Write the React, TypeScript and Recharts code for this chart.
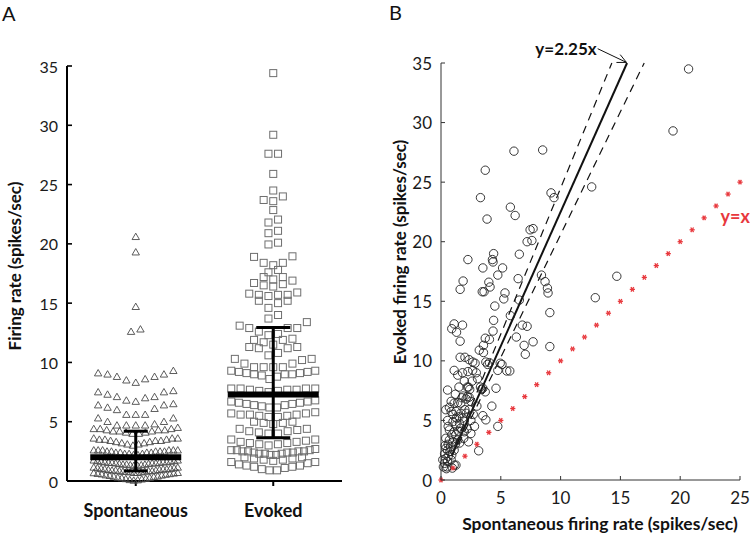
import React from "react";
import { ScatterChart, Scatter, XAxis, YAxis, ReferenceLine, ReferenceDot } from "recharts";

const FONT = "Lato, 'Open Sans', sans-serif";

// ---- Panel A: firing rate per neuron, in the rows the dot plot stacks them ----
const spontaneousRows: number[][] = [
  [20.6], [19.3], [14.7], [12.6, 12.8],
  [8.3, 8.5, 8.6, 8.8, 8.8, 9.0, 9.0, 9.1, 9.3],
  [6.7, 6.8, 7.0, 7.1, 7.1, 7.3, 7.5, 7.5, 7.6],
  [5.6, 5.6, 5.6, 6.0, 6.1, 6.2, 6.4, 6.4, 6.5],
  [4.7, 4.7, 4.7, 4.7, 4.8, 5.0, 5.0, 5.3, 5.3],
  [4.0, 4.0, 4.1, 4.1, 4.2, 4.2, 4.2, 4.3, 4.3, 4.3, 4.4, 4.4, 4.4, 4.5],
  [3.0, 3.1, 3.1, 3.2, 3.2, 3.3, 3.3, 3.4, 3.4, 3.4, 3.5, 3.5, 3.5, 3.6, 3.6, 3.6],
  [2.2, 2.2, 2.3, 2.3, 2.3, 2.4, 2.4, 2.4, 2.4, 2.5, 2.5, 2.5, 2.5, 2.5, 2.6, 2.6, 2.6, 2.6, 2.6, 2.6],
  [1.3, 1.3, 1.35, 1.35, 1.4, 1.4, 1.4, 1.45, 1.45, 1.5, 1.5, 1.5, 1.55, 1.55, 1.55, 1.6, 1.6, 1.6, 1.65, 1.65, 1.7, 1.7, 1.75, 1.75],
  [0.7, 0.7, 0.75, 0.75, 0.8, 0.8, 0.8, 0.85, 0.85, 0.85, 0.9, 0.9, 0.9, 0.95, 0.95, 1.0, 1.0, 1.0, 1.05, 1.05, 1.1, 1.1, 1.15, 1.15],
  [0.05, 0.08, 0.1, 0.15, 0.18, 0.2, 0.25, 0.28, 0.3, 0.35, 0.38, 0.4, 0.45, 0.48, 0.5, 0.55, 0.58, 0.6, 0.62, 0.65, 0.68, 0.7],
];

const evokedRows: number[][] = [
  [34.4], [29.2], [27.6, 27.6], [25.9], [24.5], [23.6, 23.7, 24.0], [22.85], [21.8, 22.05], [20.9, 21.1], [19.95, 20.1],
  [18.2, 18.4, 18.4, 18.9, 18.95],
  [17.6, 17.8],
  [17.0, 17.2, 17.2],
  [16.4, 16.5, 16.6, 16.7, 16.9],
  [15.6, 15.7, 15.7, 15.7, 15.8, 15.9],
  [14.6, 15.0, 15.2, 15.2],
  [13.7, 14.0],
  [12.3, 12.4, 12.6, 12.9, 12.9, 12.9, 13.1, 13.4],
  [11.5, 11.7, 11.9, 11.9, 12.0],
  [10.6, 10.8, 11.2, 11.2, 11.3, 11.3],
  [9.6, 9.6, 9.6, 9.6, 9.9, 9.9, 10.2, 10.3, 10.3],
  [8.6, 8.8, 8.9, 9.0, 9.0, 9.0, 9.1, 9.1, 9.2, 9.2, 9.3, 9.3],
  [7.5, 7.6, 7.6, 7.7, 7.7, 7.7, 7.8, 7.8, 7.8, 7.8],
  [6.2, 6.2, 6.3, 6.4, 6.4, 6.5, 6.5, 6.6, 6.6, 6.7, 6.7, 6.8],
  [5.4, 5.4, 5.5, 5.5, 5.6, 5.6, 5.6, 5.7, 5.7, 5.8],
  [4.8, 4.9, 4.9, 5.0, 5.0],
  [4.0, 4.0, 4.1, 4.2, 4.2, 4.3, 4.4, 4.4],
  [3.0, 3.1, 3.1, 3.2, 3.2, 3.3, 3.3, 3.4, 3.5, 3.5],
  [2.2, 2.2, 2.3, 2.3, 2.3, 2.4, 2.4, 2.4, 2.5, 2.5, 2.5, 2.5, 2.6, 2.6, 2.6, 2.7],
  [1.7, 1.8, 1.8, 1.9, 1.9, 2.0, 2.0],
  [0.9, 0.9, 1.0, 1.1, 1.2, 1.2, 1.3, 1.3, 1.4, 1.5, 1.6, 1.6],
];

const groupNames = ["Spontaneous", "Evoked"];
const groupCenters = [0.5, 1.5];
const groupMid = [2.0, 7.3];
const groupLow = [0.85, 3.65];
const groupHigh = [4.2, 12.95];
const rateTicks = [0, 5, 10, 15, 20, 25, 30, 35];

// ---- Panel B: (spontaneous, evoked) per neuron ----
const ratePairs: [number, number][] = [
  [20.7, 34.5], [19.4, 29.3], [12.6, 24.6], [14.7, 17.1], [12.9, 15.3],
  [6.1, 27.6], [8.5, 27.7], [3.7, 26.0], [3.3, 23.7], [3.85, 21.9], [5.8, 22.9], [6.2, 22.2], [9.2, 24.1], [9.45, 23.7],
  [7.45, 21.0], [7.7, 21.1], [7.2, 20.0], [7.6, 20.1],
  [4.4, 19.0], [4.3, 18.5], [4.35, 18.3], [2.25, 18.5], [6.55, 18.95], [3.5, 17.8], [5.15, 17.8], [4.75, 17.2],
  [1.85, 16.7], [1.6, 16.0], [4.0, 16.6], [4.1, 16.2], [3.45, 15.8], [3.6, 15.8], [5.35, 15.7], [5.25, 15.2],
  [4.5, 14.6], [6.45, 16.9], [6.55, 15.1], [8.4, 17.2], [8.7, 16.65], [8.9, 16.1], [8.95, 15.7], [9.1, 14.05],
  [5.8, 13.8], [4.4, 13.4],
  [1.1, 13.1], [0.9, 12.7], [1.3, 12.4], [1.8, 13.0], [1.6, 11.65], [4.35, 12.5], [6.8, 13.0], [7.2, 12.9],
  [6.3, 12.0], [7.7, 11.6], [6.95, 11.3], [9.1, 11.2], [7.05, 10.55], [3.7, 11.9], [4.05, 11.8], [3.55, 11.3],
  [3.2, 10.9], [3.55, 10.7],
  [1.6, 10.3], [2.0, 10.3], [2.35, 10.1], [2.65, 9.9], [2.85, 9.8], [3.75, 9.9], [4.05, 9.85], [4.95, 9.8],
  [5.1, 9.7], [5.5, 9.15], [5.75, 9.15], [1.1, 9.2], [1.4, 8.8], [1.8, 9.0], [2.25, 9.1], [2.65, 9.2], [2.95, 9.0],
  [3.05, 8.5], [3.9, 9.7], [4.75, 9.2], [4.6, 7.7],
  [0.55, 7.55], [1.5, 7.8], [2.3, 7.8], [2.4, 7.6], [2.2, 7.8], [1.85, 7.05], [1.75, 6.9], [2.2, 7.0],
  [0.85, 6.6], [1.1, 6.45], [1.4, 6.5], [1.65, 6.45], [2.1, 6.8], [2.35, 6.95], [2.5, 6.6],
  [0.4, 5.9], [0.85, 5.75], [1.25, 5.75], [1.65, 5.6], [2.1, 5.6], [2.35, 5.9], [4.25, 6.2], [3.5, 5.4], [3.75, 5.05], [4.75, 4.5],
  [0.55, 5.0], [1.0, 4.9], [1.25, 4.6], [1.55, 4.75], [1.95, 4.95], [2.5, 5.0],
  [0.7, 4.2], [1.1, 4.05], [1.25, 3.8], [1.65, 4.35], [1.95, 4.05], [2.5, 3.9],
  [0.4, 3.5], [0.7, 3.35], [1.0, 3.2], [1.4, 3.35], [1.55, 3.1],
  [0.4, 2.65], [0.55, 2.5], [0.75, 2.4], [0.9, 2.1], [1.1, 2.5], [3.15, 2.45],
  [0.15, 1.7], [0.3, 1.4], [0.4, 1.8], [0.55, 1.55], [0.2, 1.1], [0.5, 1.1], [0.85, 1.7], [1.1, 1.25], [1.25, 1.25],
  [0.6, 2.0], [0.8, 2.8], [1.2, 3.0], [0.9, 3.8], [1.45, 4.1], [1.8, 5.2], [2.0, 5.9], [1.5, 5.3], [0.6, 4.5],
  [1.3, 5.2], [0.3, 2.2], [0.6, 3.0], [1.9, 3.5], [2.2, 4.3], [2.7, 5.5], [3.0, 6.2], [1.2, 7.2], [0.7, 6.1],
  [1.95, 8.3], [2.6, 8.3], [3.4, 7.6], [3.7, 7.4], [3.5, 7.7], [3.3, 7.8], [0.45, 0.95], [0.95, 1.0], [0.35, 2.9],
  [1.0, 5.5], [2.8, 4.5], [2.3, 3.2],
];
const identityRates = [0, 1, 2, 3, 4, 5, 6, 7, 8, 9, 10, 11, 12, 13, 14, 15, 16, 17, 18, 19, 20, 21, 22, 23, 24, 25];
const fitSlope = 2.25;
const ciSlopes = [2.45, 2.06];
const spontTicks = [0, 5, 10, 15, 20, 25];
const fitLabelAt = [13.1, 36.2];
const identityLabelAt = [24.6, 22.2];

// lay each row out side by side, lowest value in the middle
function swarm(rows: number[][], center: number, step: number, span: number) {
  const out: { x: number; y: number; dx: number }[] = [];
  rows.forEach((row) => {
    const vals = [...row].sort((a, b) => a - b);
    const n = vals.length;
    const gap = n > 1 ? Math.min(step, span / (n - 1)) : 0;
    const slots = vals.map((_, k) => k - (n - 1) / 2).sort((a, b) => Math.abs(a) - Math.abs(b) || a - b);
    vals.forEach((v, i) => out.push({ x: center, y: v, dx: slots[i] * gap }));
  });
  return out;
}

const spontPts = swarm(spontaneousRows, groupCenters[0], 9.4, 84);
const evokedPts = swarm(evokedRows, groupCenters[1], 9.6, 84);
const pairPts = ratePairs.map(([x, y]) => ({ x, y }));
const identityPts = identityRates.map((v) => ({ x: v, y: v }));

const Triangle = (p: any) => {
  const x = p.cx + (p.payload?.dx ?? 0);
  const y = p.cy;
  return <polygon points={`${x},${y - 3.6} ${x - 3.7},${y + 2.8} ${x + 3.7},${y + 2.8}`} fill="none" stroke="#4a4a4a" strokeWidth={0.9} />;
};

const Square = (p: any) => {
  const x = p.cx + (p.payload?.dx ?? 0);
  return <rect x={x - 3.5} y={p.cy - 3.5} width={7} height={7} fill="none" stroke="#6e6e6e" strokeWidth={1} />;
};

const Ring = (p: any) => <circle cx={p.cx} cy={p.cy} r={4.2} fill="none" stroke="#222" strokeWidth={0.9} />;

const Asterisk = (p: any) => (
  <g stroke="#e8383d" strokeWidth={1.3}>
    <line x1={p.cx - 2.6} y1={p.cy} x2={p.cx + 2.6} y2={p.cy} />
    <line x1={p.cx - 1.4} y1={p.cy - 2.3} x2={p.cx + 1.4} y2={p.cy + 2.3} />
    <line x1={p.cx - 1.4} y1={p.cy + 2.3} x2={p.cx + 1.4} y2={p.cy - 2.3} />
  </g>
);

// horizontal bar of a given half width centred on the point
const hBar = (half: number, w: number) => (p: any) => (
  <line x1={p.cx - half} x2={p.cx + half} y1={p.cy} y2={p.cy} stroke="#000" strokeWidth={w} />
);

const leftTick = (margin: number, len: number, color: string, w: number, size: number) => (p: any) => (
  <g>
    <line x1={p.x + margin} x2={p.x + margin + len} y1={p.y} y2={p.y} stroke={color} strokeWidth={w} />
    <text x={p.x} y={p.y} textAnchor="end" dominantBaseline="central" fontSize={size} fontFamily={FONT} fill="#1a1a1a">
      {p.payload.value}
    </text>
  </g>
);

const bottomInTick = (margin: number, len: number) => (p: any) => (
  <g>
    <line x1={p.x} x2={p.x} y1={p.y - margin} y2={p.y - margin - len} stroke="#333" strokeWidth={1} />
    <text x={p.x} y={p.y} textAnchor="middle" dominantBaseline="central" fontSize={17} fontFamily={FONT} fill="#1a1a1a">
      {p.payload.value}
    </text>
  </g>
);

const CategoryTick = (p: any) => (
  <text x={p.x} y={p.y} textAnchor="middle" dominantBaseline="central" fontSize={18} fontWeight={700} fontFamily={FONT} fill="#111">
    {groupNames[groupCenters.indexOf(p.payload.value)]}
  </text>
);

const FitArrow = (p: any) => {
  const { x1, y1, x2, y2 } = p;
  const a = Math.atan2(y2 - y1, x2 - x1);
  const L = 10;
  const h1 = [x2 - L * Math.cos(a - 0.45), y2 - L * Math.sin(a - 0.45)];
  const h2 = [x2 - L * Math.cos(a + 0.45), y2 - L * Math.sin(a + 0.45)];
  return (
    <g>
      <line x1={x1} y1={y1} x2={x2} y2={y2} stroke="#111" strokeWidth={1} />
      <polyline points={`${h1[0]},${h1[1]} ${x2},${y2} ${h2[0]},${h2[1]}`} fill="none" stroke="#111" strokeWidth={1} />
      <text x={x1 - 1} y={y1} textAnchor="end" dominantBaseline="central" fontSize={17} fontWeight={700} fontFamily={FONT} fill="#111">
        y=2.25x
      </text>
    </g>
  );
};

function PanelA() {
  return (
    <ScatterChart width={370} height={538} margin={{ top: 66, right: 28, bottom: 12, left: 0 }}>
      <XAxis
        type="number"
        dataKey="x"
        domain={[0, 2]}
        ticks={groupCenters}
        interval={0}
        height={45}
        axisLine={{ stroke: "#000", strokeWidth: 2 }}
        tickLine={{ stroke: "#000", strokeWidth: 2 }}
        tickSize={5}
        tickMargin={24}
        tick={CategoryTick}
      />
      <YAxis
        type="number"
        dataKey="y"
        domain={[0, 35]}
        ticks={rateTicks}
        interval={0}
        width={67}
        axisLine={{ stroke: "#000", strokeWidth: 2 }}
        tickLine={false}
        tickSize={0}
        tickMargin={9}
        tick={leftTick(9, 5, "#000", 1.6, 16)}
      />
      <Scatter data={spontPts} shape={Triangle} isAnimationActive={false} />
      <Scatter data={evokedPts} shape={Square} isAnimationActive={false} />
      {groupCenters.map((c, i) => (
        <Scatter
          key={`sd${i}`}
          data={[{ x: c, y: groupLow[i] }, { x: c, y: groupHigh[i] }]}
          line={{ stroke: "#000", strokeWidth: 3 }}
          shape={hBar(i === 0 ? 12 : 17, 3)}
          isAnimationActive={false}
        />
      ))}
      {groupCenters.map((c, i) => (
        <Scatter key={`mid${i}`} data={[{ x: c, y: groupMid[i] }]} shape={hBar(45.5, 6)} isAnimationActive={false} />
      ))}
    </ScatterChart>
  );
}

function PanelB() {
  const fitStart = 2;
  const ciStart = 3;
  return (
    <ScatterChart width={380} height={538} margin={{ top: 63, right: 10, bottom: 18, left: 0 }}>
      <XAxis
        type="number"
        dataKey="x"
        domain={[0, 25]}
        ticks={spontTicks}
        interval={0}
        height={40}
        axisLine={{ stroke: "#333", strokeWidth: 1 }}
        tickLine={false}
        tickSize={0}
        tickMargin={17}
        tick={bottomInTick(17, 4)}
      />
      <YAxis
        type="number"
        dataKey="y"
        domain={[0, 35]}
        ticks={rateTicks}
        interval={0}
        width={71}
        axisLine={{ stroke: "#333", strokeWidth: 1 }}
        tickLine={false}
        tickSize={0}
        tickMargin={9}
        tick={leftTick(9, 4, "#333", 1, 17)}
      />
      {ciSlopes.map((s, i) => (
        <ReferenceLine
          key={`ci${i}`}
          segment={[{ x: ciStart / s, y: ciStart }, { x: 35 / s, y: 35 }]}
          stroke="#111"
          strokeWidth={1.2}
          strokeDasharray="8 6"
        />
      ))}
      <ReferenceLine segment={[{ x: fitStart / fitSlope, y: fitStart }, { x: 35 / fitSlope, y: 35 }]} stroke="#111" strokeWidth={2} />
      <Scatter data={pairPts} shape={Ring} isAnimationActive={false} />
      <Scatter data={identityPts} shape={Asterisk} isAnimationActive={false} />
      <ReferenceLine
        segment={[{ x: fitLabelAt[0], y: fitLabelAt[1] }, { x: 35 / fitSlope - 0.05, y: 35.05 }]}
        ifOverflow="visible"
        shape={FitArrow}
      />
      <ReferenceDot
        x={identityLabelAt[0]}
        y={identityLabelAt[1]}
        ifOverflow="visible"
        shape={(p: any) => (
          <text x={p.cx} y={p.cy} textAnchor="middle" dominantBaseline="central" fontSize={18} fontWeight={700} fontFamily={FONT} fill="#e8383d">
            y=x
          </text>
        )}
      />
    </ScatterChart>
  );
}

export default function App() {
  return (
    <div style={{ position: "absolute", left: 0, top: 0, width: 750, height: 538, background: "#fff", fontFamily: FONT }}>
      <div style={{ position: "absolute", left: 0, top: 0 }}>
        <PanelA />
      </div>
      <div style={{ position: "absolute", left: 370, top: 0 }}>
        <PanelB />
      </div>
      <svg width={750} height={538} style={{ position: "absolute", left: 0, top: 0, pointerEvents: "none" }}>
        <text x={2} y={21} fontSize={20} fontFamily={FONT} fill="#111">A</text>
        <text x={389} y={20} fontSize={20} fontFamily={FONT} fill="#111">B</text>
        <text transform="translate(14,266) rotate(-90)" textAnchor="middle" dominantBaseline="central" fontSize={17} fontWeight={700} fontFamily={FONT} fill="#111">
          Firing rate (spikes/sec)
        </text>
        <text transform="translate(399,252) rotate(-90)" textAnchor="middle" dominantBaseline="central" fontSize={17} fontWeight={700} fontFamily={FONT} fill="#111">
          Evoked firing rate (spikes/sec)
        </text>
        <text x={600} y={523} textAnchor="middle" dominantBaseline="central" fontSize={17.5} fontWeight={700} fontFamily={FONT} fill="#111">
          Spontaneous firing rate (spikes/sec)
        </text>
      </svg>
    </div>
  );
}
